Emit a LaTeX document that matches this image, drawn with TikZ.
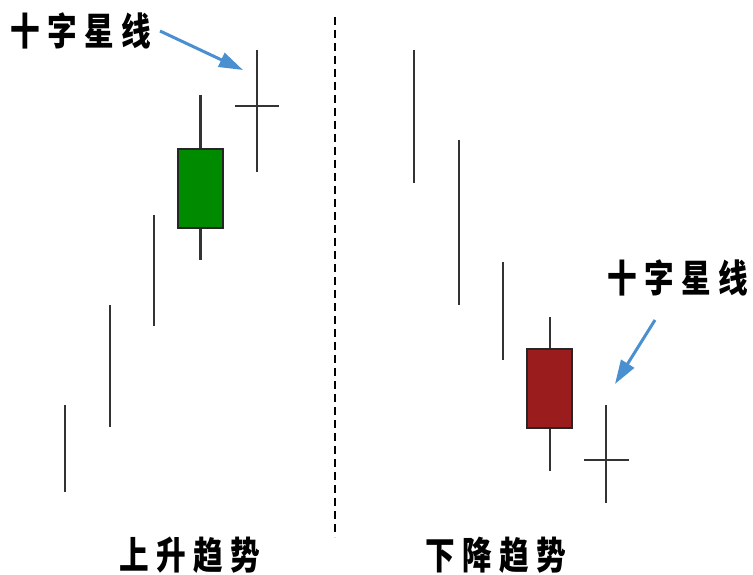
\documentclass[tikz,border=0pt]{standalone}
\usepackage{fontspec}
\newfontfamily\cjk[LetterSpace=25]{Noto Sans CJK SC}
\usetikzlibrary{arrows.meta}
\definecolor{wickc}{HTML}{333333}
\definecolor{upg}{HTML}{008A00}
\definecolor{downr}{HTML}{9B1C1C}
\definecolor{arrowb}{HTML}{4A8FD0}
\tikzset{
  wick/.style={draw=wickc, line width=2.8pt},
  body/.style={draw=black!85, line width=1.4pt, minimum width=45pt, inner sep=0pt, outer sep=0pt},
  lbl/.style={font=\cjk\bfseries\fontsize{38}{38}\selectfont, inner sep=0pt, xscale=0.78},
  pointer/.style={draw=arrowb, line width=3pt, -{Triangle[length=24pt,width=15pt]}},
  divider/.style={draw=black, line width=2pt, dash pattern=on 8pt off 5pt}
}
\begin{document}
\begin{tikzpicture}[x=1pt,y=-1pt]
\useasboundingbox (0,0) rectangle (753,575);
% divider
\coordinate (dtop) at (335,17);
\coordinate (dbot) at (335,537);
\draw[divider] (dtop) -- (dbot);
% ---- rising trend ----
\coordinate (a1) at (65,405); \coordinate (b1) at (65,492);
\coordinate (a2) at (110,305); \coordinate (b2) at (110,427);
\coordinate (a3) at (154,215); \coordinate (b3) at (154,326);
\draw[wick] (a1) -- (b1);
\draw[wick] (a2) -- (b2);
\draw[wick] (a3) -- (b3);
\coordinate (gt) at (200.5,95); \coordinate (gb) at (200.5,260);
\draw[wick] (gt) -- (gb);
\node[body, fill=upg, minimum height=79pt] (gbody) at (200.5,188.5) {};
\coordinate (dlt) at (257,50); \coordinate (dlb) at (257,172);
\coordinate (dll) at (235,106); \coordinate (dlr) at (279,106);
\draw[wick] (dlt) -- (dlb);
\draw[wick] (dll) -- (dlr);
\node[lbl] (lblL) at (81,31) {十字星线};
\coordinate (arrLs) at (160,31);
\coordinate (arrLe) at (243,70);
\draw[pointer] (arrLs) -- (arrLe);
\node[lbl] (upT) at (190,555) {上升趋势};
% ---- falling trend ----
\coordinate (c1) at (414,50); \coordinate (d1) at (414,183);
\coordinate (c2) at (459,140); \coordinate (d2) at (459,305);
\coordinate (c3) at (503,262); \coordinate (d3) at (503,360);
\draw[wick] (c1) -- (d1);
\draw[wick] (c2) -- (d2);
\draw[wick] (c3) -- (d3);
\coordinate (rt) at (550,317); \coordinate (rb) at (550,471);
\draw[wick] (rt) -- (rb);
\node[body, fill=downr, minimum height=79pt] (rbody) at (549.5,388.5) {};
\coordinate (drt) at (606,405); \coordinate (drb) at (606,503);
\coordinate (drl) at (584,460); \coordinate (drr) at (629,460);
\draw[wick] (drt) -- (drb);
\draw[wick] (drl) -- (drr);
\node[lbl] (lblR) at (678,278) {十字星线};
\coordinate (arrRs) at (655,320);
\coordinate (arrRe) at (615,384);
\draw[pointer] (arrRs) -- (arrRe);
\node[lbl] (downT) at (496,555) {下降趋势};
\end{tikzpicture}
\end{document}
